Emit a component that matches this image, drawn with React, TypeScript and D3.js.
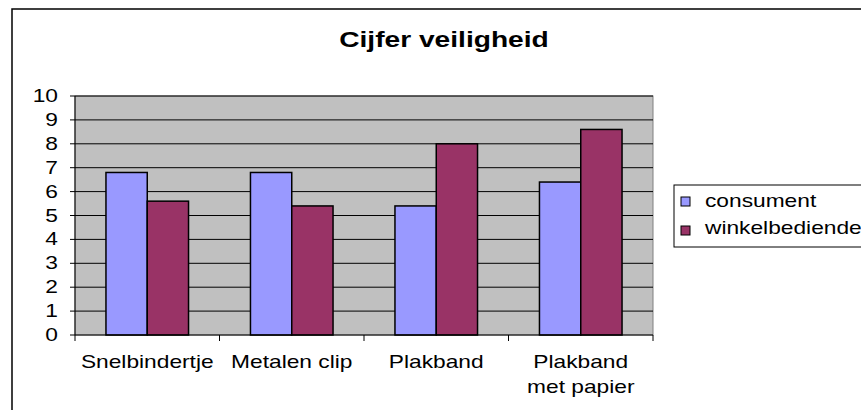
import * as d3 from "d3";
import { useEffect, useRef } from "react";

const categories = ["Snelbindertje", "Metalen clip", "Plakband", "Plakband met papier"];
const categoryLines = [["Snelbindertje"], ["Metalen clip"], ["Plakband"], ["Plakband", "met papier"]];
const seriesNames = ["consument", "winkelbediende"];
const consument = [6.8, 6.8, 5.4, 6.4];
const winkelbediende = [5.6, 5.4, 8.0, 8.6];
const yTicks = [0, 1, 2, 3, 4, 5, 6, 7, 8, 9, 10];
const title = "Cijfer veiligheid";

const colors = ["#9999FF", "#993366"];
const FONT = "'Liberation Sans', Arial, sans-serif";
const STRETCH = 1.3; // the reference text is drawn horizontally wide

export default function App() {
  const ref = useRef<SVGSVGElement>(null);

  useEffect(() => {
    const svg = d3.select(ref.current);
    svg.selectAll("*").remove();

    const width = 861;
    const height = 410;
    const plot = { left: 75, right: 653, top: 96, bottom: 335 };

    svg.append("rect").attr("width", width).attr("height", height).attr("fill", "#ffffff");

    // outer chart frame (runs past the window on the right and bottom)
    svg
      .append("rect")
      .attr("x", 12)
      .attr("y", 9)
      .attr("width", 900)
      .attr("height", 500)
      .attr("fill", "none")
      .attr("stroke", "#000")
      .attr("stroke-width", 1.5);

    // title
    svg
      .append("text")
      .attr("transform", `translate(444, 47) scale(1.28, 1)`)
      .attr("text-anchor", "middle")
      .attr("font-family", FONT)
      .attr("font-weight", "bold")
      .attr("font-size", 22)
      .text(title);

    const x0 = d3.scaleBand<string>().domain(categories).range([plot.left, plot.right]).paddingInner(0).paddingOuter(0);
    const x1 = d3.scaleBand<string>().domain(seriesNames).range([0, x0.bandwidth()]).paddingInner(0).paddingOuter(0.75);
    const y = d3.scaleLinear().domain([0, 10]).range([plot.bottom, plot.top]);

    // plot area
    svg
      .append("rect")
      .attr("x", plot.left)
      .attr("y", plot.top)
      .attr("width", plot.right - plot.left)
      .attr("height", plot.bottom - plot.top)
      .attr("fill", "#C0C0C0")
      .attr("stroke", "#808080")
      .attr("stroke-width", 1);

    // gridlines
    svg
      .append("g")
      .selectAll("line")
      .data(yTicks.filter((d) => d > 0))
      .join("line")
      .attr("x1", plot.left)
      .attr("x2", plot.right)
      .attr("y1", (d) => y(d))
      .attr("y2", (d) => y(d))
      .attr("stroke", "#000")
      .attr("stroke-width", 1);

    // bars
    const values = [consument, winkelbediende];
    const barData = categories.flatMap((c, i) =>
      seriesNames.map((s, j) => ({ c, s, v: values[j][i], color: colors[j] }))
    );
    svg
      .append("g")
      .selectAll("rect")
      .data(barData)
      .join("rect")
      .attr("x", (d) => (x0(d.c) as number) + (x1(d.s) as number))
      .attr("y", (d) => y(d.v))
      .attr("width", x1.bandwidth())
      .attr("height", (d) => y(0) - y(d.v))
      .attr("fill", (d) => d.color)
      .attr("stroke", "#000")
      .attr("stroke-width", 1.5);

    // y axis
    const yAxis = svg.append("g");
    yAxis
      .append("line")
      .attr("x1", plot.left)
      .attr("x2", plot.left)
      .attr("y1", plot.top)
      .attr("y2", plot.bottom)
      .attr("stroke", "#000");
    yAxis
      .selectAll("line.tick")
      .data(yTicks)
      .join("line")
      .attr("class", "tick")
      .attr("x1", plot.left - 5)
      .attr("x2", plot.left)
      .attr("y1", (d) => y(d))
      .attr("y2", (d) => y(d))
      .attr("stroke", "#000");
    yAxis
      .selectAll("text")
      .data(yTicks)
      .join("text")
      .attr("transform", (d) => `translate(58, ${y(d) + 6}) scale(${STRETCH}, 1)`)
      .attr("text-anchor", "end")
      .attr("font-family", FONT)
      .attr("font-size", 17.5)
      .text((d) => String(d));

    // x axis
    const xAxis = svg.append("g");
    xAxis
      .append("line")
      .attr("x1", plot.left)
      .attr("x2", plot.right)
      .attr("y1", plot.bottom)
      .attr("y2", plot.bottom)
      .attr("stroke", "#000");
    const bounds = [...categories.map((c) => x0(c) as number), plot.right];
    xAxis
      .selectAll("line.tick")
      .data(bounds)
      .join("line")
      .attr("class", "tick")
      .attr("x1", (d) => d)
      .attr("x2", (d) => d)
      .attr("y1", plot.bottom)
      .attr("y2", plot.bottom + 6)
      .attr("stroke", "#000");
    categories.forEach((c, i) => {
      const cx = (x0(c) as number) + x0.bandwidth() / 2;
      categoryLines[i].forEach((line, k) => {
        xAxis
          .append("text")
          .attr("transform", `translate(${cx}, ${368 + k * 25}) scale(${STRETCH}, 1)`)
          .attr("text-anchor", "middle")
          .attr("font-family", FONT)
          .attr("font-size", 17.5)
          .text(line);
      });
    });

    // legend
    const legend = svg.append("g");
    legend
      .append("rect")
      .attr("x", 674)
      .attr("y", 185)
      .attr("width", 220)
      .attr("height", 62)
      .attr("fill", "#fff")
      .attr("stroke", "#000")
      .attr("stroke-width", 1);
    seriesNames.forEach((s, i) => {
      legend
        .append("rect")
        .attr("x", 681)
        .attr("y", 197 + i * 29)
        .attr("width", 9)
        .attr("height", 9)
        .attr("fill", colors[i])
        .attr("stroke", "#000")
        .attr("stroke-width", 1);
      legend
        .append("text")
        .attr("transform", `translate(705, ${206.5 + i * 27}) scale(${STRETCH}, 1)`)
        .attr("font-family", FONT)
        .attr("font-size", 17.5)
        .text(s);
    });
  }, []);

  return (
    <svg
      ref={ref}
      width={861}
      height={410}
      style={{ position: "absolute", left: 0, top: 0, display: "block" }}
    />
  );
}
